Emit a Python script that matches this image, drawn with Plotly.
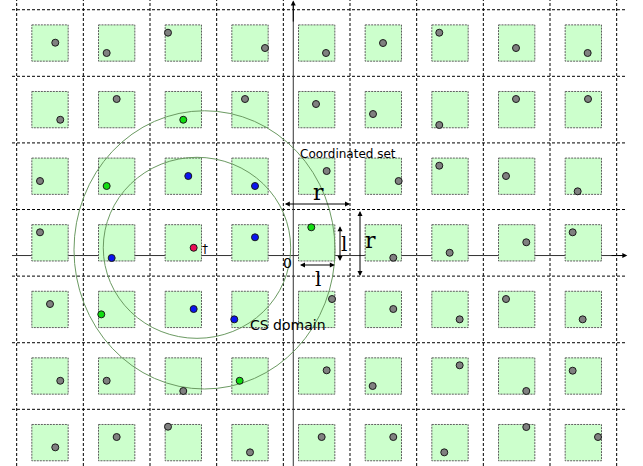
import plotly.graph_objects as go

# ---- data (cell units: grid lines at integers, rows counted from top) ----
n_cols = 9
n_rows = 7
square_side = 0.545

# point positions per row (x, y in cell units)
point_x = [
    0.579, 1.350, 2.270, 3.725, 4.640, 5.495, 6.339, 7.490, 8.565,
    0.654, 1.500, 2.499, 3.425, 4.490, 5.345, 6.339, 7.490, 8.570,
    0.350, 1.350, 2.574, 3.575, 4.650, 5.730, 6.339, 7.340, 8.415,
    0.350, 1.425, 2.655, 3.575, 4.419, 5.649, 6.495, 7.644, 8.340,
    0.500, 1.269, 2.655, 3.264, 4.730, 5.649, 6.645, 7.340, 8.490,
    0.654, 1.350, 2.499, 3.345, 4.650, 5.340, 6.645, 7.644, 8.340,
    0.579, 1.500, 2.270, 3.500, 4.575, 5.649, 6.414, 7.644, 8.720,
]
point_y = [
    0.495, 0.650, 0.345, 0.575, 0.650, 0.500, 0.345, 0.575, 0.650,
    1.652, 1.341, 1.652, 1.341, 1.416, 1.566, 1.731, 1.341, 1.341,
    2.572, 2.647, 2.497, 2.647, 2.422, 2.572, 2.342, 2.497, 2.727,
    3.342, 3.728, 3.574, 3.417, 3.267, 3.724, 3.649, 3.492, 3.342,
    4.419, 4.574, 4.494, 4.649, 4.344, 4.494, 4.649, 4.344, 4.649,
    5.571, 5.571, 5.725, 5.571, 5.414, 5.650, 5.339, 5.725, 5.420,
    6.571, 6.416, 6.261, 6.646, 6.416, 6.416, 6.646, 6.266, 6.416,
]
point_kind = [
    "o", "o", "o", "o", "o", "o", "o", "o", "o",
    "o", "o", "g", "o", "o", "o", "o", "o", "o",
    "o", "g", "b", "b", "o", "o", "o", "o", "o",
    "o", "b", "r", "b", "g", "o", "o", "o", "o",
    "o", "g", "b", "b", "o", "o", "o", "o", "o",
    "o", "o", "o", "g", "o", "o", "o", "o", "o",
    "o", "o", "o", "o", "o", "o", "o", "o", "o",
]
kind_colors = {"o": "#808080", "g": "#11dd11", "b": "#0a14f0", "r": "#ea0f55"}

# circles: (center x, center y, radius x, radius y)
circle_big = (2.8175, 3.606, 1.9575, 2.089)
circle_small = (2.7045, 3.575, 1.4055, 1.359)

axis_origin = (4.149, 3.691)
x_view = (-0.25, 9.395)
y_view = (6.851, -0.146)

fig = go.Figure()
shapes = []
dash_grid = "3px,2px"

# grid
for k in range(n_cols + 1):
    shapes.append(dict(type="line", x0=k, x1=k, y0=y_view[0], y1=y_view[1],
                       line=dict(color="black", width=1, dash=dash_grid), layer="below"))
for j in range(n_rows):
    shapes.append(dict(type="line", x0=-0.07, x1=9.15, y0=j, y1=j,
                       line=dict(color="black", width=1, dash=dash_grid), layer="below"))
# horizontal axis line (under squares)
shapes.append(dict(type="line", x0=-0.07, x1=9.12, y0=axis_origin[1], y1=axis_origin[1],
                   line=dict(color="#333333", width=1), layer="below"))
# vertical axis
shapes.append(dict(type="line", x0=axis_origin[0], x1=axis_origin[0], y0=y_view[0], y1=-0.1,
                   line=dict(color="#333333", width=1), layer="below"))
# squares
h = square_side / 2
for j in range(n_rows):
    for k in range(n_cols):
        cx, cy = k + 0.5, j + 0.5
        shapes.append(dict(type="rect", x0=cx - h, x1=cx + h, y0=cy - h, y1=cy + h,
                           fillcolor="#ccffcc",
                           line=dict(color="#5e5e5e", width=1, dash="2px,1px"), layer="below"))
# circles
for (cx, cy, rx, ry) in (circle_big, circle_small):
    shapes.append(dict(type="circle", x0=cx - rx, x1=cx + rx, y0=cy - ry, y1=cy + ry,
                       line=dict(color="#6b9a62", width=1), layer="below"))

fig.add_trace(go.Scatter(
    x=point_x, y=point_y, mode="markers",
    marker=dict(size=7, color=[kind_colors[k] for k in point_kind],
                line=dict(color="#1a1a1a", width=1)),
    hoverinfo="skip", showlegend=False))

ann = []
def arrow(x0, y0, x1, y1, both=True):
    ann.append(dict(x=x1, y=y1, ax=x0, ay=y0, xref="x", yref="y", axref="x", ayref="y",
                    text="", showarrow=True, arrowhead=2, arrowsize=1, arrowwidth=1,
                    arrowcolor="black", arrowside="end+start" if both else "end",
                    startarrowhead=2, startarrowsize=1, standoff=0, startstandoff=0))

# axis arrowheads
arrow(8.9, axis_origin[1], 9.16, axis_origin[1], both=False)
arrow(axis_origin[0], 0.2, axis_origin[0], -0.14, both=False)

# dimension arrows
arrow(4, 2.917, 5, 2.917)
arrow(4.850, 3.5 - h, 4.850, 3.5 + h)
arrow(5.150, 3, 5.150, 4)
arrow(4.5 - h, 3.833, 4.5 + h, 3.833)

serif = "DejaVu Serif"
sans = "DejaVu Sans"
def label(x, y, t, size, fam=sans):
    ann.append(dict(x=x, y=y, xref="x", yref="y", text=t, showarrow=False,
                    font=dict(family=fam, size=size, color="black")))

label(4.52, 2.745, "r", 22, serif)
label(4.905, 3.515, "l", 20, serif)
label(5.30, 3.47, "r", 22, serif)
label(4.52, 4.05, "l", 20, serif)
label(4.06, 3.80, "0", 14)
label(4.97, 2.165, "Coordinated set", 12)
label(4.07, 4.73, "CS domain", 14)
label(2.83, 3.59, "†", 12)

fig.update_layout(
    width=643, height=466, margin=dict(l=0, r=0, t=0, b=0),
    paper_bgcolor="white", plot_bgcolor="white",
    shapes=shapes, annotations=ann,
    xaxis=dict(range=list(x_view), visible=False, showgrid=False, zeroline=False),
    yaxis=dict(range=list(y_view), visible=False, showgrid=False, zeroline=False),
)
fig.write_html("out.html", config={"displayModeBar": False},
               post_script="document.body.style.margin='0';document.body.style.overflow='hidden';")
